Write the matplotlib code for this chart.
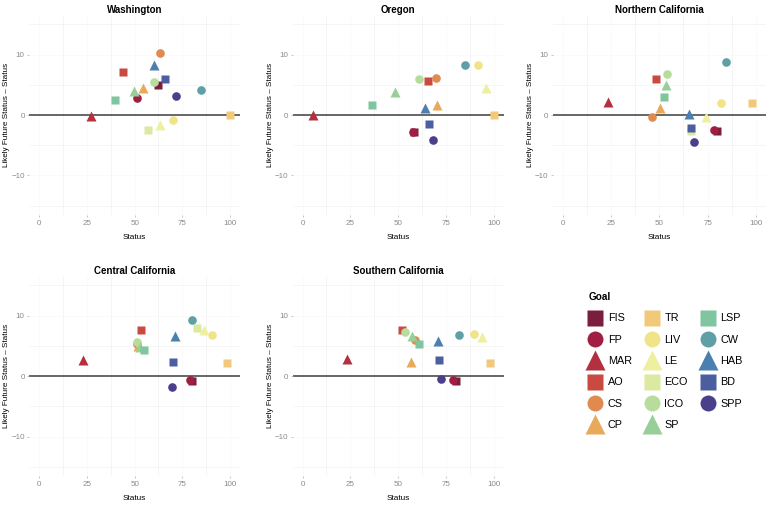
import numpy as np
import matplotlib
matplotlib.use("Agg")
import matplotlib.pyplot as plt
from matplotlib.lines import Line2D

plt.rcParams["font.family"] = ["Liberation Sans", "DejaVu Sans"]

# goals, legend order (filled by column)
GOALS = ["FIS", "FP", "MAR", "AO", "CS", "CP",
         "TR", "LIV", "LE", "ECO", "ICO", "SP",
         "LSP", "CW", "HAB", "BD", "SPP"]
COLORS = ["#7b1d3d", "#9f1e42", "#b5303f", "#c94a40", "#e08a4f", "#e9a95a",
          "#f0c97a", "#f1e388", "#eef0a0", "#dce9a0", "#b8dc9c", "#98cf98",
          "#7ec5a0", "#5f9fa6", "#4a7fb0", "#4a5ea0", "#4a3f8a"]
MARKERS = ["s", "o", "^", "s", "o", "^",
           "s", "o", "^", "s", "o", "^",
           "s", "o", "^", "s", "o"]

REGIONS = ["Washington", "Oregon", "Northern California",
           "Central California", "Southern California"]

# status per goal (same order as GOALS), nan = not shown
wa_status = [62, 51.5, 27, 43.8, 63.5, 54.6, 100, 70, 63.5, 56.9, 59.9, 49.7, 39.8, 84.5, 60.4, 66, 71.6]
wa_diff = [5.0, 2.8, -0.2, 7.1, 10.2, 4.5, 0.0, -0.9, -1.6, -2.4, 5.4, 4.0, 2.5, 4.1, 8.2, 5.9, 3.1]

or_status = [58, 57.5, 5.2, 65.7, 69.7, 70.2, 100, 91.5, 95.8, np.nan, 60.8, 48.5, 36.2, 84.7, 64, 66.2, 68.2]
or_diff = [-2.8, -2.8, 0.0, 5.7, 6.1, 1.7, 0.0, 8.3, 4.4, np.nan, 6.0, 3.8, 1.7, 8.3, 1.2, -1.5, -4.2]

nc_status = [79.8, 78.2, 23.4, 48.4, 46.2, 50.2, 97.8, 81.7, 74, 66.3, 53.8, 53.3, 52.4, 84.6, 65.2, 66.6, 68]
nc_diff = [-2.7, -2.4, 2.2, 5.9, -0.3, 1.2, 2.0, 2.0, -0.4, -2.6, 6.8, 4.9, 3.0, 8.8, 0.1, -2.2, -4.4]

cc_status = [80, 79, 23.2, 53.1, 51.5, 52, 98.3, 90.4, 86.4, 82.7, 51.1, 53, 54.8, 80.3, 71.4, 70.3, 69.8]
cc_diff = [-0.8, -0.6, 2.6, 7.7, 5.3, 5.0, 2.1, 6.8, 7.6, 7.9, 5.7, 4.9, 4.3, 9.3, 6.7, 2.3, -1.8]

sc_status = [80.1, 78.7, 23.4, 52, 58.6, 56.8, 97.7, 89.4, 93.9, np.nan, 53.6, 57.2, 60.8, 81.5, 70.5, 71.4, 72.3]
sc_diff = [-0.8, -0.7, 2.8, 7.6, 5.9, 2.4, 2.1, 6.9, 6.5, np.nan, 7.3, 6.6, 5.3, 6.8, 5.8, 2.6, -0.4]

STATUS = [wa_status, or_status, nc_status, cc_status, sc_status]
DIFF = [wa_diff, or_diff, nc_diff, cc_diff, sc_diff]

MSIZE = {"o": 6.2, "s": 5.7, "^": 7.4}
LEG_MSIZE = {"o": 11.5, "s": 11.0, "^": 14.0}

fig = plt.figure(figsize=(7.7, 5.09), dpi=100)
lefts = [0.0383, 0.3805, 0.718]
widths = [0.273, 0.2735, 0.2763]
bottoms = [0.578, 0.065]
height = 0.392

for i, region in enumerate(REGIONS):
    row, col = divmod(i, 3)
    ax = fig.add_axes([lefts[col], bottoms[row], widths[col], height])
    ax.set_xlim(-5, 105)
    ax.set_ylim(-16.5, 16.5)
    for v in [12.5, 37.5, 62.5, 87.5]:
        ax.axvline(v, color="#f2f2f2", lw=0.5, zorder=0)
    for v in [-15, -5, 5, 15]:
        ax.axhline(v, color="#f2f2f2", lw=0.5, zorder=0)
    for v in [0, 25, 50, 75, 100]:
        ax.axvline(v, color="#f7f7f7", lw=0.4, zorder=0)
    for v in [-10, 10]:
        ax.axhline(v, color="#f7f7f7", lw=0.4, zorder=0)
    ax.axhline(0, color="#4d4d4d", lw=1.2, zorder=1)
    for g in range(len(GOALS)):
        x, y = STATUS[i][g], DIFF[i][g]
        if np.isnan(x):
            continue
        m = MARKERS[g]
        ax.plot(x, y, marker=m, ms=MSIZE[m], color=COLORS[g], mec="none", ls="none", zorder=3)
    for s in ax.spines.values():
        s.set_visible(False)
    ax.set_xticks([0, 25, 50, 75, 100])
    ax.set_yticks([-10, 0, 10])
    ax.tick_params(labelsize=5.8, colors="#9a9a9a", labelcolor="#8a8a8a",
                   length=1.5, width=0.4, pad=2)
    ax.set_xlabel("Status", fontsize=5.9, labelpad=5)
    ax.set_ylabel("Likely Future Status \u2013 Status", fontsize=5.9, labelpad=0.5)
    ax.set_title(region, fontsize=7, fontweight="bold", pad=1.5)

# legend in the empty sixth slot
handles = [Line2D([], [], marker=MARKERS[g], color=COLORS[g], mec="none", ls="none",
                  ms=LEG_MSIZE[MARKERS[g]])
           for g in range(len(GOALS))]
leg = fig.legend(handles, GOALS, ncol=3, title="Goal", loc="upper left",
                 bbox_to_anchor=(0.757, 0.437), frameon=False, fontsize=7.8,
                 title_fontproperties={"weight": "bold", "size": 7.2},
                 handlelength=1.3, handletextpad=0.5, columnspacing=1.2,
                 labelspacing=1.05, borderpad=0)
leg._legend_box.align = "left"

fig.savefig("out.png", dpi=100)
